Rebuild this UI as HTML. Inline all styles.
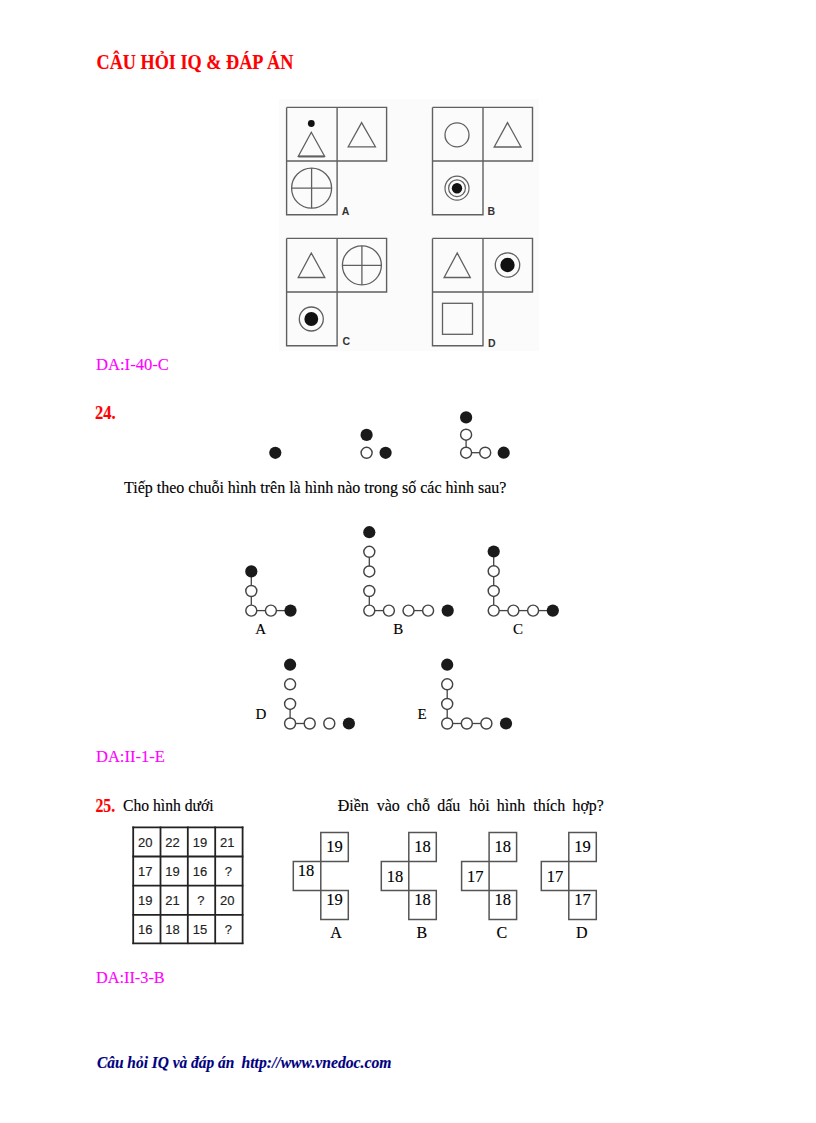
<!DOCTYPE html>
<html><head><meta charset="utf-8"><style>
html,body{margin:0;padding:0;background:#fff;width:816px;height:1123px;overflow:hidden}
svg{display:block}
</style></head><body>
<svg width="816" height="1123" viewBox="0 0 816 1123"><text x="96.5" y="69" font-family="Liberation Serif" font-size="20" font-weight="bold" font-style="normal" fill="#ff0000" stroke="#ff0000" stroke-width="0.15" text-anchor="start" textLength="196.8" lengthAdjust="spacingAndGlyphs" >CÂU HỎI IQ &amp; ĐÁP ÁN</text>
<text x="96.0" y="370.4" font-family="Liberation Serif" font-size="17" font-weight="normal" font-style="normal" fill="#ff00ff" stroke="#ff00ff" stroke-width="0.15" text-anchor="start" textLength="72.93" lengthAdjust="spacingAndGlyphs" >DA:I-40-C</text>
<text x="95.0" y="418.6" font-family="Liberation Serif" font-size="19" font-weight="bold" font-style="normal" fill="#ff0000" stroke="#ff0000" stroke-width="0.15" text-anchor="start" textLength="20.62" lengthAdjust="spacingAndGlyphs" >24.</text>
<text x="124.0" y="493.1" font-family="Liberation Serif" font-size="17" font-weight="normal" font-style="normal" fill="#000" stroke="#000" stroke-width="0.15" text-anchor="start" textLength="382.42" lengthAdjust="spacingAndGlyphs" >Tiếp theo chuỗi hình trên là hình nào trong số các hình sau?</text>
<text x="96.0" y="762.4" font-family="Liberation Serif" font-size="17" font-weight="normal" font-style="normal" fill="#ff00ff" stroke="#ff00ff" stroke-width="0.15" text-anchor="start" textLength="68.76" lengthAdjust="spacingAndGlyphs" >DA:II-1-E</text>
<text x="95.5" y="811.5" font-family="Liberation Serif" font-size="18.5" font-weight="bold" font-style="normal" fill="#ff0000" stroke="#ff0000" stroke-width="0.15" text-anchor="start" textLength="19.65" lengthAdjust="spacingAndGlyphs" >25.</text>
<text x="123.0" y="811" font-family="Liberation Serif" font-size="17" font-weight="normal" font-style="normal" fill="#000" stroke="#000" stroke-width="0.15" text-anchor="start" textLength="90.61" lengthAdjust="spacingAndGlyphs" >Cho hình dưới</text>
<text x="337.7" y="810.6" font-family="Liberation Serif" font-size="17" font-weight="normal" font-style="normal" fill="#000" stroke="#000" stroke-width="0.15" text-anchor="start" textLength="31.1" lengthAdjust="spacingAndGlyphs" >Điền</text>
<text x="376.7" y="810.6" font-family="Liberation Serif" font-size="17" font-weight="normal" font-style="normal" fill="#000" stroke="#000" stroke-width="0.15" text-anchor="start" textLength="23.1" lengthAdjust="spacingAndGlyphs" >vào</text>
<text x="406.8" y="810.6" font-family="Liberation Serif" font-size="17" font-weight="normal" font-style="normal" fill="#000" stroke="#000" stroke-width="0.15" text-anchor="start" textLength="23.1" lengthAdjust="spacingAndGlyphs" >chỗ</text>
<text x="437.2" y="810.6" font-family="Liberation Serif" font-size="17" font-weight="normal" font-style="normal" fill="#000" stroke="#000" stroke-width="0.15" text-anchor="start" textLength="23.1" lengthAdjust="spacingAndGlyphs" >dấu</text>
<text x="469.2" y="810.6" font-family="Liberation Serif" font-size="17" font-weight="normal" font-style="normal" fill="#000" stroke="#000" stroke-width="0.15" text-anchor="start" textLength="20.4" lengthAdjust="spacingAndGlyphs" >hỏi</text>
<text x="496.8" y="810.6" font-family="Liberation Serif" font-size="17" font-weight="normal" font-style="normal" fill="#000" stroke="#000" stroke-width="0.15" text-anchor="start" textLength="28.4" lengthAdjust="spacingAndGlyphs" >hình</text>
<text x="533.2" y="810.6" font-family="Liberation Serif" font-size="17" font-weight="normal" font-style="normal" fill="#000" stroke="#000" stroke-width="0.15" text-anchor="start" textLength="32.0" lengthAdjust="spacingAndGlyphs" >thích</text>
<text x="572.5" y="810.6" font-family="Liberation Serif" font-size="17" font-weight="normal" font-style="normal" fill="#000" stroke="#000" stroke-width="0.15" text-anchor="start" textLength="31.2" lengthAdjust="spacingAndGlyphs" >hợp?</text>
<text x="96.0" y="982.8" font-family="Liberation Serif" font-size="17" font-weight="normal" font-style="normal" fill="#ff00ff" stroke="#ff00ff" stroke-width="0.15" text-anchor="start" textLength="68.69" lengthAdjust="spacingAndGlyphs" >DA:II-3-B</text>
<text x="97.0" y="1068.3" font-family="Liberation Serif" font-size="17" font-weight="bold" font-style="italic" fill="#000080" stroke="#000080" stroke-width="0.15" text-anchor="start" textLength="137.28" lengthAdjust="spacingAndGlyphs" >Câu hỏi IQ và đáp án</text>
<text x="241.5" y="1068.3" font-family="Liberation Serif" font-size="17" font-weight="bold" font-style="italic" fill="#000080" stroke="#000080" stroke-width="0.15" text-anchor="start" textLength="149.94" lengthAdjust="spacingAndGlyphs" >http://www.vnedoc.com</text>
<rect x="279" y="99" width="260" height="252" fill="#fbfbfb"/>
<path d="M286.6,107.4 H386.6 V161.0 H286.6 M286.6,107.4 V214.7 H337.1 V107.4" fill="none" stroke="#606060" stroke-width="1.4"/>
<path d="M432.5,107.4 H532.5 V161.0 H432.5 M432.5,107.4 V214.7 H483.0 V107.4" fill="none" stroke="#606060" stroke-width="1.4"/>
<path d="M286.6,238.4 H386.6 V292.0 H286.6 M286.6,238.4 V345.7 H337.1 V238.4" fill="none" stroke="#606060" stroke-width="1.4"/>
<path d="M432.5,238.4 H532.5 V292.0 H432.5 M432.5,238.4 V345.7 H483.0 V238.4" fill="none" stroke="#606060" stroke-width="1.4"/>
<circle cx="311.3" cy="123.5" r="3.4" fill="#111" stroke="none" stroke-width="1.3"/>
<polygon points="311.3,132.3 298.3,156.3 324.6,156.3" fill="none" stroke="#606060" stroke-width="1.3"/>
<line x1="298.3" y1="156.5" x2="324.6" y2="156.5" stroke="#606060" stroke-width="2"/>
<polygon points="361.6,122.6 348.2,146.8 375.4,146.8" fill="none" stroke="#606060" stroke-width="1.3"/>
<circle cx="311.6" cy="188.2" r="20" fill="none" stroke="#606060" stroke-width="1.3"/>
<line x1="291.6" y1="188.2" x2="331.6" y2="188.2" stroke="#606060" stroke-width="1.3"/>
<line x1="311.6" y1="168.2" x2="311.6" y2="208.2" stroke="#606060" stroke-width="1.3"/>
<circle cx="457" cy="134.9" r="12" fill="none" stroke="#606060" stroke-width="1.3"/>
<polygon points="507.5,122.6 494.2,147 521,147" fill="none" stroke="#606060" stroke-width="1.3"/>
<circle cx="457" cy="188.2" r="12" fill="none" stroke="#606060" stroke-width="1.2"/>
<circle cx="457" cy="188.2" r="8.4" fill="none" stroke="#606060" stroke-width="1.2"/>
<circle cx="457" cy="188.2" r="5.2" fill="#111" stroke="none" stroke-width="1.3"/>
<polygon points="311.3,253 298.2,277.5 324.8,277.5" fill="none" stroke="#606060" stroke-width="1.3"/>
<circle cx="361.9" cy="265.3" r="19.5" fill="none" stroke="#606060" stroke-width="1.3"/>
<line x1="342.4" y1="265.3" x2="381.4" y2="265.3" stroke="#606060" stroke-width="1.3"/>
<line x1="361.9" y1="245.8" x2="361.9" y2="284.8" stroke="#606060" stroke-width="1.3"/>
<circle cx="311.3" cy="319" r="12" fill="none" stroke="#606060" stroke-width="1.3"/>
<circle cx="311.3" cy="319" r="6.9" fill="#111" stroke="none" stroke-width="1.3"/>
<polygon points="457.2,253 444.1,277.5 470.3,277.5" fill="none" stroke="#606060" stroke-width="1.3"/>
<circle cx="507.5" cy="265" r="12.2" fill="none" stroke="#606060" stroke-width="1.3"/>
<circle cx="507.5" cy="265" r="7.2" fill="#111" stroke="none" stroke-width="1.3"/>
<rect x="442.5" y="303.3" width="30" height="31" fill="none" stroke="#606060" stroke-width="1.3"/>
<text x="341.8" y="214.7" font-family="Liberation Sans" font-size="10.5" font-weight="bold" font-style="normal" fill="#333" stroke="#333" stroke-width="0" text-anchor="start"  >A</text>
<text x="487.6" y="214.7" font-family="Liberation Sans" font-size="10.5" font-weight="bold" font-style="normal" fill="#333" stroke="#333" stroke-width="0" text-anchor="start"  >B</text>
<text x="342.5" y="345.2" font-family="Liberation Sans" font-size="10.5" font-weight="bold" font-style="normal" fill="#333" stroke="#333" stroke-width="0" text-anchor="start"  >C</text>
<text x="488" y="346.5" font-family="Liberation Sans" font-size="10.5" font-weight="bold" font-style="normal" fill="#333" stroke="#333" stroke-width="0" text-anchor="start"  >D</text>
<circle cx="275.3" cy="452.8" r="6.1" fill="#1a1a1a" stroke="none" stroke-width="1.3"/>
<circle cx="366.6" cy="434.9" r="6.1" fill="#1a1a1a" stroke="none" stroke-width="1.3"/>
<circle cx="366.6" cy="452.8" r="5.5" fill="#fff" stroke="#444" stroke-width="1.45"/>
<circle cx="385.6" cy="452.8" r="6.1" fill="#1a1a1a" stroke="none" stroke-width="1.3"/>
<line x1="466.1" y1="434.7" x2="466.1" y2="452.7" stroke="#444" stroke-width="1.3"/>
<line x1="466.1" y1="452.7" x2="485.2" y2="452.7" stroke="#444" stroke-width="1.3"/>
<circle cx="466.1" cy="417.4" r="6.1" fill="#1a1a1a" stroke="none" stroke-width="1.3"/>
<circle cx="466.1" cy="434.7" r="5.5" fill="#fff" stroke="#444" stroke-width="1.45"/>
<circle cx="466.1" cy="452.7" r="5.5" fill="#fff" stroke="#444" stroke-width="1.45"/>
<circle cx="485.2" cy="452.7" r="5.5" fill="#fff" stroke="#444" stroke-width="1.45"/>
<circle cx="503.7" cy="452.7" r="6.1" fill="#1a1a1a" stroke="none" stroke-width="1.3"/>
<line x1="251.3" y1="571.4" x2="251.3" y2="591.0" stroke="#444" stroke-width="1.3"/>
<line x1="251.3" y1="591.0" x2="251.3" y2="610.6" stroke="#444" stroke-width="1.3"/>
<line x1="251.3" y1="610.6" x2="270.90000000000003" y2="610.6" stroke="#444" stroke-width="1.3"/>
<line x1="270.90000000000003" y1="610.6" x2="290.5" y2="610.6" stroke="#444" stroke-width="1.3"/>
<circle cx="251.3" cy="571.4" r="6.1" fill="#1a1a1a" stroke="none" stroke-width="1.3"/>
<circle cx="251.3" cy="591.0" r="5.5" fill="#fff" stroke="#444" stroke-width="1.45"/>
<circle cx="251.3" cy="610.6" r="5.5" fill="#fff" stroke="#444" stroke-width="1.45"/>
<circle cx="270.90000000000003" cy="610.6" r="5.5" fill="#fff" stroke="#444" stroke-width="1.45"/>
<circle cx="290.5" cy="610.6" r="6.1" fill="#1a1a1a" stroke="none" stroke-width="1.3"/>
<line x1="369.3" y1="551.8000000000001" x2="369.3" y2="571.4" stroke="#444" stroke-width="1.3"/>
<line x1="369.3" y1="591.0" x2="369.3" y2="610.6" stroke="#444" stroke-width="1.3"/>
<line x1="369.3" y1="610.6" x2="388.90000000000003" y2="610.6" stroke="#444" stroke-width="1.3"/>
<line x1="408.5" y1="610.6" x2="428.1" y2="610.6" stroke="#444" stroke-width="1.3"/>
<circle cx="369.3" cy="532.2" r="6.1" fill="#1a1a1a" stroke="none" stroke-width="1.3"/>
<circle cx="369.3" cy="551.8000000000001" r="5.5" fill="#fff" stroke="#444" stroke-width="1.45"/>
<circle cx="369.3" cy="571.4" r="5.5" fill="#fff" stroke="#444" stroke-width="1.45"/>
<circle cx="369.3" cy="591.0" r="5.5" fill="#fff" stroke="#444" stroke-width="1.45"/>
<circle cx="369.3" cy="610.6" r="5.5" fill="#fff" stroke="#444" stroke-width="1.45"/>
<circle cx="388.90000000000003" cy="610.6" r="5.5" fill="#fff" stroke="#444" stroke-width="1.45"/>
<circle cx="408.5" cy="610.6" r="5.5" fill="#fff" stroke="#444" stroke-width="1.45"/>
<circle cx="428.1" cy="610.6" r="5.5" fill="#fff" stroke="#444" stroke-width="1.45"/>
<circle cx="447.70000000000005" cy="610.6" r="6.1" fill="#1a1a1a" stroke="none" stroke-width="1.3"/>
<line x1="493.7" y1="551.5" x2="493.7" y2="571.2" stroke="#444" stroke-width="1.3"/>
<line x1="493.7" y1="571.2" x2="493.7" y2="590.9" stroke="#444" stroke-width="1.3"/>
<line x1="493.7" y1="590.9" x2="493.7" y2="610.6" stroke="#444" stroke-width="1.3"/>
<line x1="493.7" y1="610.6" x2="513.4" y2="610.6" stroke="#444" stroke-width="1.3"/>
<line x1="513.4" y1="610.6" x2="533.1" y2="610.6" stroke="#444" stroke-width="1.3"/>
<line x1="533.1" y1="610.6" x2="552.8" y2="610.6" stroke="#444" stroke-width="1.3"/>
<circle cx="493.7" cy="551.5" r="6.1" fill="#1a1a1a" stroke="none" stroke-width="1.3"/>
<circle cx="493.7" cy="571.2" r="5.5" fill="#fff" stroke="#444" stroke-width="1.45"/>
<circle cx="493.7" cy="590.9" r="5.5" fill="#fff" stroke="#444" stroke-width="1.45"/>
<circle cx="493.7" cy="610.6" r="5.5" fill="#fff" stroke="#444" stroke-width="1.45"/>
<circle cx="513.4" cy="610.6" r="5.5" fill="#fff" stroke="#444" stroke-width="1.45"/>
<circle cx="533.1" cy="610.6" r="5.5" fill="#fff" stroke="#444" stroke-width="1.45"/>
<circle cx="552.8" cy="610.6" r="6.1" fill="#1a1a1a" stroke="none" stroke-width="1.3"/>
<line x1="290.1" y1="703.9" x2="290.1" y2="723.5" stroke="#444" stroke-width="1.3"/>
<line x1="290.1" y1="723.5" x2="309.70000000000005" y2="723.5" stroke="#444" stroke-width="1.3"/>
<circle cx="290.1" cy="664.7" r="6.1" fill="#1a1a1a" stroke="none" stroke-width="1.3"/>
<circle cx="290.1" cy="684.3" r="5.5" fill="#fff" stroke="#444" stroke-width="1.45"/>
<circle cx="290.1" cy="703.9" r="5.5" fill="#fff" stroke="#444" stroke-width="1.45"/>
<circle cx="290.1" cy="723.5" r="5.5" fill="#fff" stroke="#444" stroke-width="1.45"/>
<circle cx="309.70000000000005" cy="723.5" r="5.5" fill="#fff" stroke="#444" stroke-width="1.45"/>
<circle cx="329.3" cy="723.5" r="5.5" fill="#fff" stroke="#444" stroke-width="1.45"/>
<circle cx="348.90000000000003" cy="723.5" r="6.1" fill="#1a1a1a" stroke="none" stroke-width="1.3"/>
<line x1="447.2" y1="684.3" x2="447.2" y2="703.9" stroke="#444" stroke-width="1.3"/>
<line x1="447.2" y1="703.9" x2="447.2" y2="723.5" stroke="#444" stroke-width="1.3"/>
<line x1="447.2" y1="723.5" x2="466.8" y2="723.5" stroke="#444" stroke-width="1.3"/>
<line x1="466.8" y1="723.5" x2="486.4" y2="723.5" stroke="#444" stroke-width="1.3"/>
<circle cx="447.2" cy="664.7" r="6.1" fill="#1a1a1a" stroke="none" stroke-width="1.3"/>
<circle cx="447.2" cy="684.3" r="5.5" fill="#fff" stroke="#444" stroke-width="1.45"/>
<circle cx="447.2" cy="703.9" r="5.5" fill="#fff" stroke="#444" stroke-width="1.45"/>
<circle cx="447.2" cy="723.5" r="5.5" fill="#fff" stroke="#444" stroke-width="1.45"/>
<circle cx="466.8" cy="723.5" r="5.5" fill="#fff" stroke="#444" stroke-width="1.45"/>
<circle cx="486.4" cy="723.5" r="5.5" fill="#fff" stroke="#444" stroke-width="1.45"/>
<circle cx="506.0" cy="723.5" r="6.1" fill="#1a1a1a" stroke="none" stroke-width="1.3"/>
<text x="255.3" y="633.6" font-family="Liberation Serif" font-size="15" font-weight="normal" font-style="normal" fill="#000" stroke="#000" stroke-width="0.15" text-anchor="start"  >A</text>
<text x="393.3" y="633.6" font-family="Liberation Serif" font-size="15" font-weight="normal" font-style="normal" fill="#000" stroke="#000" stroke-width="0.15" text-anchor="start"  >B</text>
<text x="513" y="633.6" font-family="Liberation Serif" font-size="15" font-weight="normal" font-style="normal" fill="#000" stroke="#000" stroke-width="0.15" text-anchor="start"  >C</text>
<text x="255.5" y="719.2" font-family="Liberation Serif" font-size="15" font-weight="normal" font-style="normal" fill="#000" stroke="#000" stroke-width="0.15" text-anchor="start"  >D</text>
<text x="417.5" y="719.2" font-family="Liberation Serif" font-size="15" font-weight="normal" font-style="normal" fill="#000" stroke="#000" stroke-width="0.15" text-anchor="start"  >E</text>
<line x1="133.2" y1="826.5" x2="133.2" y2="944.0999999999999" stroke="#222" stroke-width="1.8"/>
<line x1="160.5" y1="826.5" x2="160.5" y2="944.0999999999999" stroke="#222" stroke-width="1.8"/>
<line x1="187.8" y1="826.5" x2="187.8" y2="944.0999999999999" stroke="#222" stroke-width="1.8"/>
<line x1="215.2" y1="826.5" x2="215.2" y2="944.0999999999999" stroke="#222" stroke-width="1.8"/>
<line x1="242.6" y1="826.5" x2="242.6" y2="944.0999999999999" stroke="#222" stroke-width="1.8"/>
<line x1="132.39999999999998" y1="827.3" x2="243.4" y2="827.3" stroke="#222" stroke-width="1.8"/>
<line x1="132.39999999999998" y1="856.5" x2="243.4" y2="856.5" stroke="#222" stroke-width="1.8"/>
<line x1="132.39999999999998" y1="885.6" x2="243.4" y2="885.6" stroke="#222" stroke-width="1.8"/>
<line x1="132.39999999999998" y1="914.8" x2="243.4" y2="914.8" stroke="#222" stroke-width="1.8"/>
<line x1="132.39999999999998" y1="943.3" x2="243.4" y2="943.3" stroke="#222" stroke-width="1.8"/>
<text x="145.2" y="846.6" font-family="Liberation Sans" font-size="13" font-weight="normal" font-style="normal" fill="#222" stroke="#222" stroke-width="0.15" text-anchor="middle"  >20</text>
<text x="172.6" y="846.6" font-family="Liberation Sans" font-size="13" font-weight="normal" font-style="normal" fill="#222" stroke="#222" stroke-width="0.15" text-anchor="middle"  >22</text>
<text x="199.9" y="846.6" font-family="Liberation Sans" font-size="13" font-weight="normal" font-style="normal" fill="#222" stroke="#222" stroke-width="0.15" text-anchor="middle"  >19</text>
<text x="227.3" y="846.6" font-family="Liberation Sans" font-size="13" font-weight="normal" font-style="normal" fill="#222" stroke="#222" stroke-width="0.15" text-anchor="middle"  >21</text>
<text x="145.2" y="875.8" font-family="Liberation Sans" font-size="13" font-weight="normal" font-style="normal" fill="#222" stroke="#222" stroke-width="0.15" text-anchor="middle"  >17</text>
<text x="172.6" y="875.8" font-family="Liberation Sans" font-size="13" font-weight="normal" font-style="normal" fill="#222" stroke="#222" stroke-width="0.15" text-anchor="middle"  >19</text>
<text x="199.9" y="875.8" font-family="Liberation Sans" font-size="13" font-weight="normal" font-style="normal" fill="#222" stroke="#222" stroke-width="0.15" text-anchor="middle"  >16</text>
<text x="228.3" y="875.8" font-family="Liberation Sans" font-size="13" font-weight="normal" font-style="normal" fill="#222" stroke="#222" stroke-width="0.15" text-anchor="middle"  >?</text>
<text x="145.2" y="904.9" font-family="Liberation Sans" font-size="13" font-weight="normal" font-style="normal" fill="#222" stroke="#222" stroke-width="0.15" text-anchor="middle"  >19</text>
<text x="172.6" y="904.9" font-family="Liberation Sans" font-size="13" font-weight="normal" font-style="normal" fill="#222" stroke="#222" stroke-width="0.15" text-anchor="middle"  >21</text>
<text x="200.9" y="904.9" font-family="Liberation Sans" font-size="13" font-weight="normal" font-style="normal" fill="#222" stroke="#222" stroke-width="0.15" text-anchor="middle"  >?</text>
<text x="227.3" y="904.9" font-family="Liberation Sans" font-size="13" font-weight="normal" font-style="normal" fill="#222" stroke="#222" stroke-width="0.15" text-anchor="middle"  >20</text>
<text x="145.2" y="933.8" font-family="Liberation Sans" font-size="13" font-weight="normal" font-style="normal" fill="#222" stroke="#222" stroke-width="0.15" text-anchor="middle"  >16</text>
<text x="172.6" y="933.8" font-family="Liberation Sans" font-size="13" font-weight="normal" font-style="normal" fill="#222" stroke="#222" stroke-width="0.15" text-anchor="middle"  >18</text>
<text x="199.9" y="933.8" font-family="Liberation Sans" font-size="13" font-weight="normal" font-style="normal" fill="#222" stroke="#222" stroke-width="0.15" text-anchor="middle"  >15</text>
<text x="228.3" y="933.8" font-family="Liberation Sans" font-size="13" font-weight="normal" font-style="normal" fill="#222" stroke="#222" stroke-width="0.15" text-anchor="middle"  >?</text>
<path d="M320.8,832.4 H348.3 V861.4 H293.3 V890.4 H348.3 V919.4 H320.8 Z" fill="none" stroke="#555" stroke-width="1.5"/>
<text x="334.55" y="852.4" font-family="Liberation Serif" font-size="16.5" font-weight="normal" font-style="normal" fill="#000" stroke="#000" stroke-width="0.15" text-anchor="middle"  >19</text>
<text x="306.05" y="875.9" font-family="Liberation Serif" font-size="16.5" font-weight="normal" font-style="normal" fill="#000" stroke="#000" stroke-width="0.15" text-anchor="middle"  >18</text>
<text x="334.55" y="905.4" font-family="Liberation Serif" font-size="16.5" font-weight="normal" font-style="normal" fill="#000" stroke="#000" stroke-width="0.15" text-anchor="middle"  >19</text>
<path d="M408.8,832.4 H436.3 V861.4 H381.3 V890.4 H436.3 V919.4 H408.8 Z" fill="none" stroke="#555" stroke-width="1.5"/>
<text x="422.55" y="852.4" font-family="Liberation Serif" font-size="16.5" font-weight="normal" font-style="normal" fill="#000" stroke="#000" stroke-width="0.15" text-anchor="middle"  >18</text>
<text x="395.05" y="882.1999999999999" font-family="Liberation Serif" font-size="16.5" font-weight="normal" font-style="normal" fill="#000" stroke="#000" stroke-width="0.15" text-anchor="middle"  >18</text>
<text x="422.55" y="905.4" font-family="Liberation Serif" font-size="16.5" font-weight="normal" font-style="normal" fill="#000" stroke="#000" stroke-width="0.15" text-anchor="middle"  >18</text>
<path d="M489.1,832.4 H516.6 V861.4 H461.6 V890.4 H516.6 V919.4 H489.1 Z" fill="none" stroke="#555" stroke-width="1.5"/>
<text x="502.85" y="852.4" font-family="Liberation Serif" font-size="16.5" font-weight="normal" font-style="normal" fill="#000" stroke="#000" stroke-width="0.15" text-anchor="middle"  >18</text>
<text x="475.35" y="881.9" font-family="Liberation Serif" font-size="16.5" font-weight="normal" font-style="normal" fill="#000" stroke="#000" stroke-width="0.15" text-anchor="middle"  >17</text>
<text x="502.85" y="905.4" font-family="Liberation Serif" font-size="16.5" font-weight="normal" font-style="normal" fill="#000" stroke="#000" stroke-width="0.15" text-anchor="middle"  >18</text>
<path d="M568.8,832.4 H596.3 V861.4 H541.3 V890.4 H596.3 V919.4 H568.8 Z" fill="none" stroke="#555" stroke-width="1.5"/>
<text x="582.55" y="852.4" font-family="Liberation Serif" font-size="16.5" font-weight="normal" font-style="normal" fill="#000" stroke="#000" stroke-width="0.15" text-anchor="middle"  >19</text>
<text x="555.05" y="881.9" font-family="Liberation Serif" font-size="16.5" font-weight="normal" font-style="normal" fill="#000" stroke="#000" stroke-width="0.15" text-anchor="middle"  >17</text>
<text x="582.55" y="905.4" font-family="Liberation Serif" font-size="16.5" font-weight="normal" font-style="normal" fill="#000" stroke="#000" stroke-width="0.15" text-anchor="middle"  >17</text>
<text x="336" y="938" font-family="Liberation Serif" font-size="16" font-weight="normal" font-style="normal" fill="#000" stroke="#000" stroke-width="0.15" text-anchor="middle"  >A</text>
<text x="421.8" y="938" font-family="Liberation Serif" font-size="16" font-weight="normal" font-style="normal" fill="#000" stroke="#000" stroke-width="0.15" text-anchor="middle"  >B</text>
<text x="501.8" y="938" font-family="Liberation Serif" font-size="16" font-weight="normal" font-style="normal" fill="#000" stroke="#000" stroke-width="0.15" text-anchor="middle"  >C</text>
<text x="581.7" y="938" font-family="Liberation Serif" font-size="16" font-weight="normal" font-style="normal" fill="#000" stroke="#000" stroke-width="0.15" text-anchor="middle"  >D</text></svg>
</body></html>
